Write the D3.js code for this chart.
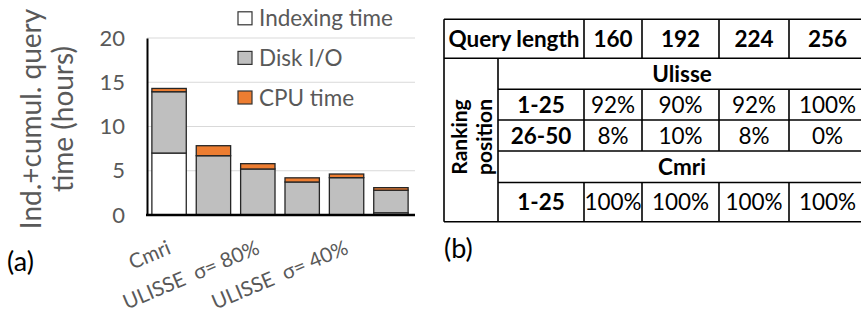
<!DOCTYPE html>
<html>
<head>
<meta charset="utf-8">
<script src="https://cdn.jsdelivr.net/npm/d3@7"></script>
<style>
  body { margin: 0; background: #fff; }
  svg { display: block; font-family: Lato, "Open Sans", sans-serif; }
</style>
</head>
<body>
<svg id="chart" width="861" height="317"></svg>
<script>
  // bar chart data (hours)
  var categories = ["Cmri", "ULISSE 1", "ULISSE σ= 80%", "ULISSE 3", "ULISSE σ= 40%", "ULISSE 5"];
  var tickLabels = ["Cmri", "", "ULISSE\u00a0 σ= 80%", "", "ULISSE\u00a0 σ= 40%", ""];
  var indexingTime = [7.0, 0, 0, 0, 0, 0.25];
  var diskIO = [6.93, 6.7, 5.2, 3.73, 4.22, 2.55];
  var cpuTime = [0.37, 1.13, 0.6, 0.47, 0.41, 0.29];
  var yTicks = [0, 5, 10, 15, 20];
  var seriesNames = ["Indexing time", "Disk I/O", "CPU time"];
  var seriesColors = ["#ffffff", "#bfbfbf", "#ed7d31"];

  // table data
  var queryLengths = [160, 192, 224, 256];
  var ulisseRanks = ["1-25", "26-50"];
  var ulisseValues = [[92, 90, 92, 100], [8, 10, 8, 0]];
  var cmriRanks = ["1-25"];
  var cmriValues = [[100, 100, 100, 100]];

  var svg = d3.select("#chart");
  var gray = "#595959";

  // ---------- (a) stacked bars ----------
  var rows = categories.map(function(c, i) {
    return { cat: c, idx: indexingTime[i], disk: diskIO[i], cpu: cpuTime[i] };
  });

  var x = d3.scaleBand()
    .domain(categories)
    .range([147, 413])
    .paddingInner(0.225)
    .paddingOuter(0.11);

  var y = d3.scaleLinear()
    .domain([0, 20])
    .range([215, 38]);

  var stack = d3.stack().keys(["idx", "disk", "cpu"]);
  var series = stack(rows);

  // gridlines
  svg.append("g")
    .selectAll("line")
    .data(yTicks.slice(1))
    .join("line")
    .attr("x1", 147)
    .attr("x2", 415)
    .attr("y1", d => y(d))
    .attr("y2", d => y(d))
    .attr("stroke", "#d9d9d9")
    .attr("stroke-width", 1);

  // y axis
  var yAxis = d3.axisLeft(y).tickValues(yTicks).tickSize(0).tickPadding(22);
  var gy = svg.append("g").attr("transform", "translate(147,0)").call(yAxis);
  gy.select(".domain").attr("stroke", "#000").attr("stroke-width", 2);
  gy.selectAll("text")
    .attr("fill", gray)
    .style("font-size", "22px")
    .style("font-family", "Lato, sans-serif");

  // bars
  svg.append("g")
    .selectAll("g")
    .data(series)
    .join("g")
    .attr("fill", (d, i) => seriesColors[i])
    .selectAll("rect")
    .data(d => d)
    .join("rect")
    .attr("x", d => x(d.data.cat))
    .attr("width", x.bandwidth())
    .attr("y", d => y(d[1]))
    .attr("height", d => Math.max(0, y(d[0]) - y(d[1])))
    .attr("stroke", d => (d[1] - d[0]) > 0 ? "#262626" : "none")
    .attr("stroke-width", 1.3);

  // x baseline
  svg.append("line")
    .attr("x1", 146)
    .attr("x2", 415)
    .attr("y1", y(0))
    .attr("y2", y(0))
    .attr("stroke", "#000")
    .attr("stroke-width", 2.5);

  // x labels (every other one shown)
  svg.append("g")
    .selectAll("text")
    .data(categories.filter((d, i) => tickLabels[i] !== ""))
    .join("text")
    .attr("transform", d => "translate(" + (x(d) + x.bandwidth() / 2 + 3) + ",253) rotate(-23)")
    .attr("text-anchor", "end")
    .attr("fill", gray)
    .style("font-size", "20.5px")
    .text(d => tickLabels[categories.indexOf(d)]);

  // y axis title
  var yt = svg.append("text")
    .attr("transform", "translate(0,119) rotate(-90)")
    .attr("text-anchor", "middle")
    .attr("fill", gray)
    .style("font-size", "28px");
  yt.append("tspan").attr("x", 0).attr("y", 41).text("Ind.+cumul. query");
  yt.append("tspan").attr("x", 0).attr("y", 73).text("time (hours)");

  // legend
  var legend = svg.append("g")
    .selectAll("g")
    .data(seriesNames)
    .join("g")
    .attr("transform", (d, i) => "translate(238," + (18.3 + i * 39.6) + ")");
  legend.append("rect")
    .attr("x", 0)
    .attr("y", -6.5)
    .attr("width", 14)
    .attr("height", 13)
    .attr("fill", (d, i) => seriesColors[i])
    .attr("stroke", "#333")
    .attr("stroke-width", 1.2);
  legend.append("text")
    .attr("x", 21)
    .attr("y", 8)
    .attr("fill", gray)
    .style("font-size", "22.5px")
    .text(d => d);

  svg.append("text")
    .attr("x", 7)
    .attr("y", 271)
    .style("font-size", "27px")
    .text("(a)");

  // ---------- (b) table ----------
  var colX = [444, 584, 642, 719, 789, 866];
  var subX = 498;
  var rowY = [19.3, 58.3, 89.3, 120, 151, 182.5, 221.7];
  var t = svg.append("g").attr("stroke", "#000").attr("stroke-width", 1.6);

  function hline(x1, x2, yy) {
    t.append("line").attr("x1", x1).attr("x2", x2).attr("y1", yy).attr("y2", yy);
  }
  function vline(xx, y1, y2) {
    t.append("line").attr("x1", xx).attr("x2", xx).attr("y1", y1).attr("y2", y2);
  }

  hline(colX[0], colX[5], rowY[0]);
  hline(colX[0], colX[5], rowY[1]);
  [2, 3, 4, 5].forEach(function(r) { hline(subX, colX[5], rowY[r]); });
  hline(colX[0], colX[5], rowY[6]);
  vline(colX[0], rowY[0], rowY[6]);
  vline(subX, rowY[1], rowY[6]);
  [1, 2, 3, 4].forEach(function(c) {
    vline(colX[c], rowY[0], rowY[1]);
    vline(colX[c], rowY[2], rowY[4]);
    vline(colX[c], rowY[5], rowY[6]);
  });

  function cell(txt, cx, cy, bold) {
    svg.append("text")
      .attr("x", cx)
      .attr("y", cy)
      .attr("dy", "0.36em")
      .attr("text-anchor", "middle")
      .style("font-size", "22.5px")
      .style("font-weight", bold ? "bold" : "normal")
      .text(txt);
  }
  function mid(a, b) { return (a + b) / 2; }

  cell("Query length", mid(colX[0], colX[1]), mid(rowY[0], rowY[1]), true);
  queryLengths.forEach(function(q, i) {
    cell(q, mid(colX[i + 1], colX[i + 2]), mid(rowY[0], rowY[1]), true);
  });
  cell("Ulisse", mid(subX, colX[5]), mid(rowY[1], rowY[2]), true);
  ulisseRanks.forEach(function(r, j) {
    var cy = mid(rowY[2 + j], rowY[3 + j]);
    cell(r, mid(subX, colX[1]), cy, true);
    ulisseValues[j].forEach(function(v, i) {
      cell(v + "%", mid(colX[i + 1], colX[i + 2]), cy, false);
    });
  });
  cell("Cmri", mid(subX, colX[5]), mid(rowY[4], rowY[5]), true);
  cmriRanks.forEach(function(r, j) {
    var cy = mid(rowY[5 + j], rowY[6 + j]);
    cell(r, mid(subX, colX[1]), cy, true);
    cmriValues[j].forEach(function(v, i) {
      cell(v + "%", mid(colX[i + 1], colX[i + 2]), cy, false);
    });
  });

  // rotated "Ranking position"
  var rp = svg.append("text")
    .attr("transform", "translate(0,137) rotate(-90)")
    .attr("text-anchor", "middle")
    .style("font-size", "21px")
    .style("font-weight", "bold");
  rp.append("tspan").attr("x", 0).attr("y", 467).text("Ranking");
  rp.append("tspan").attr("x", 0).attr("y", 492).text("position");

  svg.append("text")
    .attr("x", 444)
    .attr("y", 258)
    .style("font-size", "27px")
    .text("(b)");
</script>
</body>
</html>
